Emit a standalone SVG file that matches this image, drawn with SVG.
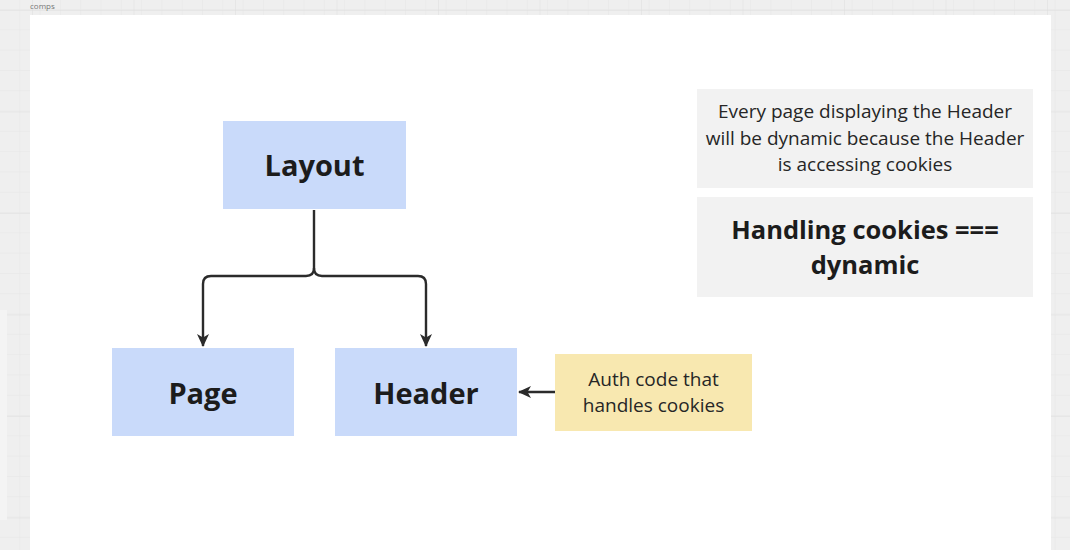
<svg xmlns="http://www.w3.org/2000/svg" width="1070" height="550" viewBox="0 0 1070 550">
<defs>
<pattern id="minor" x="0" y="10" width="20.3" height="20.3" patternUnits="userSpaceOnUse">
<path d="M20.3 0V20.3M0 20.3H20.3" fill="none" stroke="#e6e6e6" stroke-width="1"/>
</pattern>
<pattern id="major" x="33" y="11" width="101.5" height="101.5" patternUnits="userSpaceOnUse">
<path d="M101.5 0V101.5M0 101.5H101.5" fill="none" stroke="#dddddd" stroke-width="1"/>
</pattern>
<marker id="arr" viewBox="0 0 14 14" refX="12" refY="7" markerWidth="14" markerHeight="14" markerUnits="userSpaceOnUse" orient="auto">
<path d="M0 1 L13 7 L0 13 L3.5 7 Z" fill="#2b2b2b"/>
</marker>
<style>
.node{fill:#c9dafa}
.note{fill:#f2f2f2}
.sticky{fill:#f8e8b0}
.big{font-family:"Open Sans","Noto Sans","Liberation Sans",sans-serif;font-weight:700;font-size:29px;fill:#1c1c1c;text-anchor:middle}
.txt{font-family:"Open Sans","Noto Sans","Liberation Sans",sans-serif;font-size:19px;fill:#262626;text-anchor:middle}
.bold{font-family:"Open Sans","Noto Sans","Liberation Sans",sans-serif;font-weight:700;font-size:25.5px;fill:#1c1c1c;text-anchor:middle}
.edge{fill:none;stroke:#2b2b2b;stroke-width:2.4}
</style>
</defs>
<rect width="1070" height="550" fill="#efefef"/>
<rect width="1070" height="550" fill="url(#minor)"/>
<rect width="1070" height="550" fill="url(#major)"/>
<rect x="0" y="310" width="7" height="210" fill="#f4f4f4"/>
<text x="30" y="9" font-family="Open Sans, Liberation Sans, sans-serif" font-size="8" fill="#777">comps</text>
<rect x="30" y="15" width="1021" height="535" fill="#ffffff"/>
<g id="connectors">
<path class="edge" d="M314 210 V268 Q314 276 306 276 H211 Q203 276 203 284 V346" marker-end="url(#arr)"/>
<path class="edge" d="M314 268 Q314 276 322 276 H418 Q426 276 426 284 V346" marker-end="url(#arr)"/>
<path class="edge" d="M555 392 H519" marker-end="url(#arr)"/>
</g>
<g id="layout">
<rect class="node" x="223" y="121" width="183" height="88"/>
<text class="big" x="314.5" y="176">Layout</text>
</g>
<g id="page">
<rect class="node" x="112" y="348" width="182" height="88"/>
<text class="big" x="203" y="404">Page</text>
</g>
<g id="header">
<rect class="node" x="335" y="348" width="182" height="88"/>
<text class="big" x="426" y="404">Header</text>
</g>
<g id="auth">
<rect class="sticky" x="555" y="354" width="197" height="77"/>
<text class="txt" x="653.5" y="386">Auth code that</text>
<text class="txt" x="653.5" y="412">handles cookies</text>
</g>
<g id="note1">
<rect class="note" x="697" y="89" width="336" height="99"/>
<text class="txt" x="865" y="118">Every page displaying the Header</text>
<text class="txt" x="865" y="145">will be dynamic because the Header</text>
<text class="txt" x="865" y="171">is accessing cookies</text>
</g>
<g id="note2">
<rect class="note" x="697" y="197" width="336" height="100"/>
<text class="bold" x="865" y="239">Handling cookies ===</text>
<text class="bold" x="865" y="274">dynamic</text>
</g>
</svg>
